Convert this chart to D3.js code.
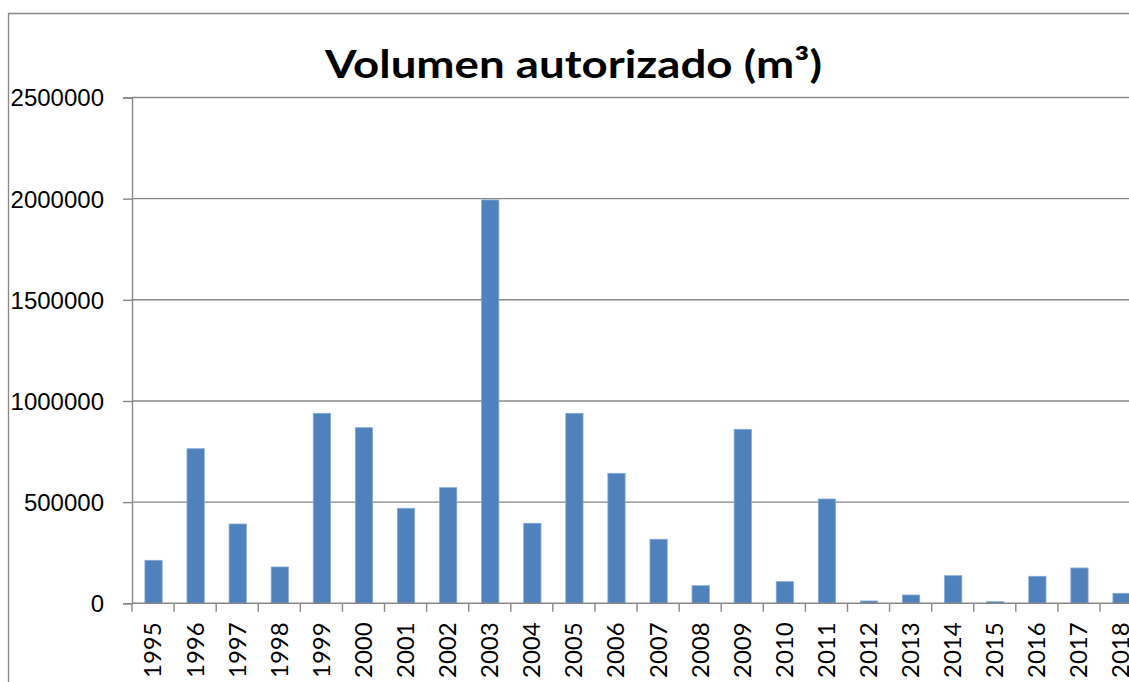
<!DOCTYPE HTML>
<html>
  <head>
    <meta charset="utf-8">
    <title>Volumen autorizado</title>
    <style>
      html, body {
        margin: 0;
        padding: 0;
        background: #fff;
        overflow: hidden;
      }
      svg {
        display: block;
        font-family: Lato, "Open Sans", sans-serif;
      }
    </style>
  </head>
  <body>
    <svg width="1129" height="682"></svg>
    <script src="https://d3js.org/d3.v7.min.js"></script>
    <script>
      var years = [ '1995', '1996', '1997', '1998', '1999', '2000', '2001', '2002',
                    '2003', '2004', '2005', '2006', '2007', '2008', '2009', '2010',
                    '2011', '2012', '2013', '2014', '2015', '2016', '2017', '2018' ];
      var volumes = [ 212500, 764000, 392000, 179500, 939000, 868000, 469500, 571500,
                      1993500, 395500, 939000, 642500, 316500, 87000, 860000, 107000,
                      515500, 11500, 41000, 136500, 8000, 133500, 174500, 49500 ];
      var yTicks = [ 0, 500000, 1000000, 1500000, 2000000, 2500000 ];
      var title = 'Volumen autorizado (m³)';

      var svg = d3.select( 'svg' );
      var plotLeft = 132, plotRight = 1142.1, plotTop = 97.5, plotBottom = 603.3;
      var grey = '#878787';

      // outer chart frame (right and bottom edges fall outside the picture)
      svg.append( 'path' )
        .attr( 'd', 'M8.5,682 L8.5,13.5 L1135,13.5' )
        .attr( 'fill', 'none' )
        .attr( 'stroke', grey )
        .attr( 'stroke-width', 1.3 );

      var xScale = d3.scaleBand().domain( years ).range([ plotLeft, plotRight ]).padding( 0 );
      var yScale = d3.scaleLinear().domain([ 0, 2500000 ]).range([ plotBottom, plotTop ]);

      // gridlines
      svg.append( 'g' )
        .selectAll( 'line' )
        .data( yTicks.filter( function( d ) { return d > 0; } ) )
        .enter()
        .append( 'line' )
          .attr( 'x1', plotLeft )
          .attr( 'x2', 1129 )
          .attr( 'y1', function( d ) { return yScale( d ); } )
          .attr( 'y2', function( d ) { return yScale( d ); } )
          .attr( 'stroke', grey )
          .attr( 'stroke-width', 1.4 );

      // bars
      var barW = xScale.bandwidth() * 0.41;
      svg.append( 'g' )
        .selectAll( 'rect' )
        .data( volumes )
        .enter()
        .append( 'rect' )
          .attr( 'x', function( d, i ) { return xScale( years[i] ) + ( xScale.bandwidth() - barW ) / 2 + 0.5; } )
          .attr( 'y', function( d ) { return yScale( d ); } )
          .attr( 'width', barW )
          .attr( 'height', function( d ) { return plotBottom - yScale( d ); } )
          .attr( 'fill', '#4F81BD' )
          .attr( 'stroke', '#86a9d6' )
          .attr( 'stroke-width', 0.8 );

      // y axis
      var yAxis = svg.append( 'g' )
        .attr( 'transform', 'translate(' + plotLeft + ',0)' )
        .call( d3.axisLeft( yScale ).tickValues( yTicks ).tickFormat( d3.format( 'd' ) )
          .tickSize( 9 ).tickPadding( 19 ) );
      yAxis.select( '.domain' ).attr( 'stroke', grey ).attr( 'stroke-width', 1.4 );
      yAxis.selectAll( '.tick line' ).attr( 'stroke', grey ).attr( 'stroke-width', 1.4 );
      yAxis.selectAll( 'text' )
        .attr( 'fill', '#000' )
        .style( 'font-size', '24px' )
        .attr( 'dy', '0.35em' );

      // x axis: ticks at category boundaries
      var xAxis = svg.append( 'g' )
        .attr( 'transform', 'translate(0,' + plotBottom + ')' );
      xAxis.append( 'line' )
        .attr( 'x1', plotLeft ).attr( 'x2', 1129 )
        .attr( 'y1', 0 ).attr( 'y2', 0 )
        .attr( 'stroke', grey ).attr( 'stroke-width', 1.6 );
      xAxis.selectAll( 'line.tk' )
        .data( years )
        .enter()
        .append( 'line' )
          .attr( 'class', 'tk' )
          .attr( 'x1', function( d ) { return xScale( d ); } )
          .attr( 'x2', function( d ) { return xScale( d ); } )
          .attr( 'y1', 0 )
          .attr( 'y2', 8.5 )
          .attr( 'stroke', grey )
          .attr( 'stroke-width', 1.4 );
      xAxis.selectAll( 'text' )
        .data( years )
        .enter()
        .append( 'text' )
          .attr( 'transform', function( d ) {
            return 'translate(' + ( xScale( d ) + xScale.bandwidth() / 2 ) + ',19) rotate(-90)';
          } )
          .attr( 'text-anchor', 'end' )
          .attr( 'dy', '0.35em' )
          .attr( 'fill', '#000' )
          .style( 'font-size', '24px' )
          .text( function( d ) { return d; } );

      // title
      svg.append( 'text' )
        .attr( 'x', 325 )
        .attr( 'y', 78 )
        .attr( 'textLength', 497 )
        .attr( 'lengthAdjust', 'spacingAndGlyphs' )
        .attr( 'fill', '#000' )
        .style( 'font-size', '39px' )
        .style( 'font-weight', 'bold' )
        .text( title );
    </script>
  </body>
</html>
